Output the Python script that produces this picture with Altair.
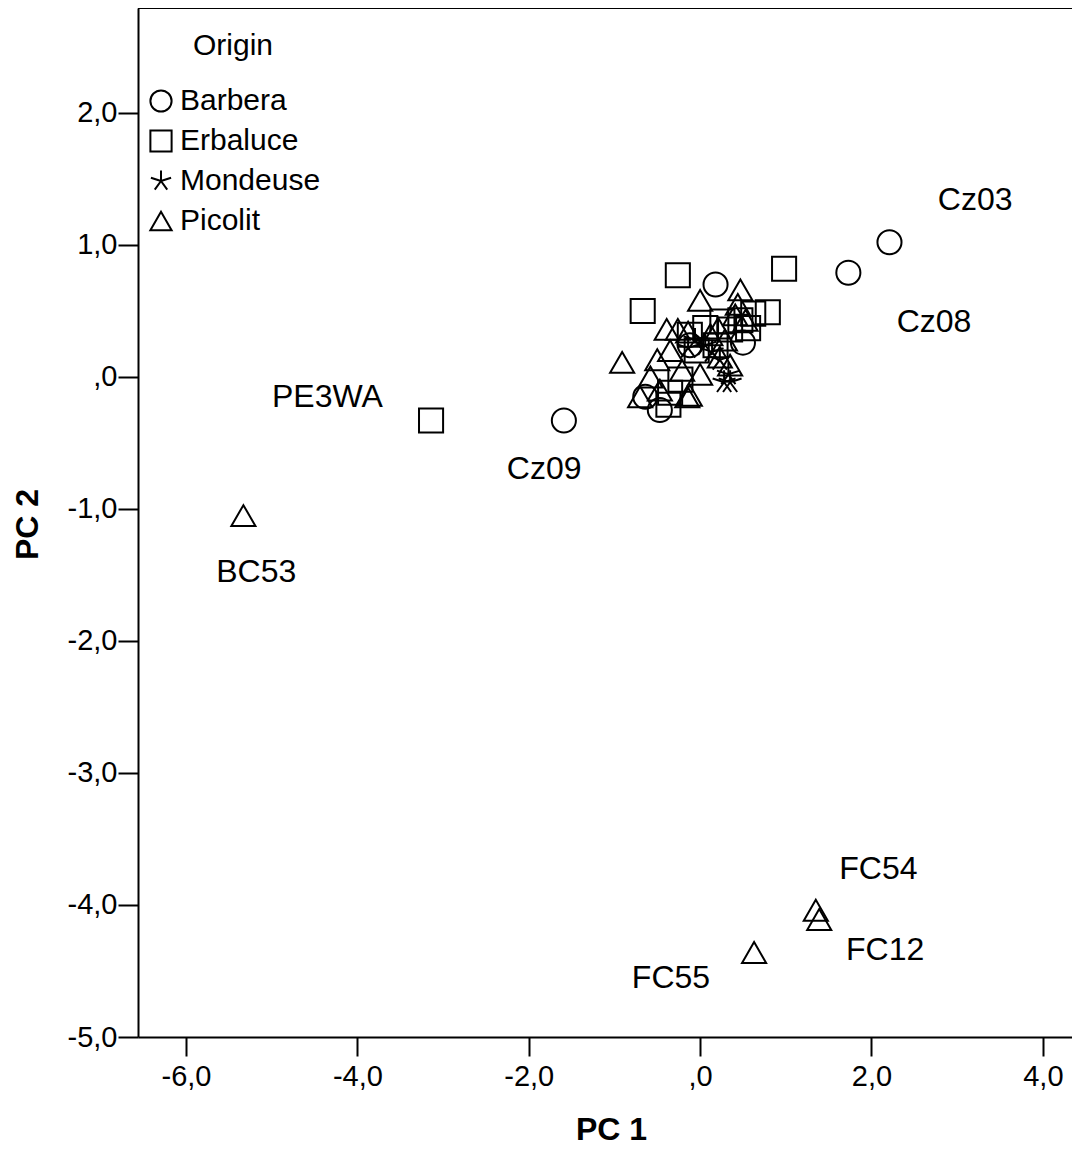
import altair as alt
import pandas as pd

# ---- data ----
origins = ["Barbera", "Erbaluce", "Mondeuse", "Picolit"]

barbera_x = [2.21, 1.73, 0.18, -1.59, 0.50, -0.47, -0.64, -0.12]
barbera_y = [1.02, 0.79, 0.70, -0.33, 0.26, -0.25, -0.15, 0.24]

erbaluce_x = [-3.14, 0.98, -0.26, -0.67, 0.79, 0.62, 0.47, 0.26, 0.06, -0.12, 0.56,
              -0.35, -0.37, -0.23, -0.04, 0.18, 0.35]
erbaluce_y = [-0.33, 0.82, 0.77, 0.50, 0.49, 0.48, 0.43, 0.42, 0.37, 0.32, 0.37,
              -0.12, -0.21, -0.02, 0.20, 0.24, 0.36]

mondeuse_x = [0.28, 0.35, 0.06, 0.14, -0.06, 0.23, -0.14, 0.33]
mondeuse_y = [-0.04, -0.04, 0.24, 0.19, 0.28, 0.13, 0.22, 0.02]

picolit_x = [-5.33, 1.35, 1.39, 0.63, 0.47, 0.00, 0.44, -0.91, -0.39, -0.26, -0.14,
             0.21, -0.50, -0.58, -0.70, -0.35, -0.15, 0.23, 0.35, 0.41, -0.47,
             -0.21, 0.00, -0.12, 0.53, 0.29, 0.12]
picolit_y = [-1.05, -4.04, -4.11, -4.36, 0.66, 0.58, 0.55, 0.11, 0.36, 0.36, 0.34,
             0.37, 0.13, 0.00, -0.15, 0.20, -0.15, 0.15, 0.09, 0.47, -0.10,
             0.05, 0.02, -0.14, 0.43, 0.28, 0.32]

label_text = ["Cz03", "Cz08", "PE3WA", "Cz09", "BC53", "FC54", "FC12", "FC55"]
label_x = [3.21, 2.73, -4.35, -1.82, -5.18, 2.08, 2.16, -0.34]
label_y = [1.34, 0.42, -0.15, -0.70, -1.48, -3.73, -4.34, -4.55]

x_ticks = [-6, -4, -2, 0, 2, 4]
y_ticks = [-5, -4, -3, -2, -1, 0, 1, 2]

# ---- build tables ----
rows = []
for name, xs, ys in [("Barbera", barbera_x, barbera_y),
                     ("Erbaluce", erbaluce_x, erbaluce_y),
                     ("Mondeuse", mondeuse_x, mondeuse_y),
                     ("Picolit", picolit_x, picolit_y)]:
    for a, b in zip(xs, ys):
        rows.append({"PC1": a, "PC2": b, "Origin": name})
points = pd.DataFrame(rows)
labels = pd.DataFrame({"PC1": label_x, "PC2": label_y, "label": label_text})

W, H = 934, 1029
FONT = "Liberation Sans, Arial, sans-serif"
asterisk = ("M0,0L0,-1M0,0L0.951,-0.309M0,0L0.588,0.809"
            "M0,0L-0.588,0.809M0,0L-0.951,-0.309")

lab_expr = ("datum.value == 0 ? ',0' : replace((datum.value < 0 ? '-' : '') + "
            "format(abs(datum.value), '.1f'), '.', ',')")

xscale = alt.Scale(domain=[-6.56, 4.34], nice=False, zero=False)
yscale = alt.Scale(domain=[-5.0, 2.795], nice=False, zero=False)

xaxis = alt.Axis(values=x_ticks, labelExpr=lab_expr, grid=False, title="PC 1",
                 titleX=473, titleY=92, titleBaseline="middle", titleAlign="center",
                 tickSize=19, labelPadding=6)
yaxis = alt.Axis(values=y_ticks, labelExpr=lab_expr, grid=False, title="PC 2",
                 titleX=-111, titleY=516, titleAngle=270, titleBaseline="middle",
                 titleAlign="center", tickSize=20, labelPadding=1)

pts = alt.Chart(points).mark_point(filled=False, strokeWidth=2, color="black",
                                   opacity=1, size=580).encode(
    x=alt.X("PC1:Q", scale=xscale, axis=xaxis),
    y=alt.Y("PC2:Q", scale=yscale, axis=yaxis),
    shape=alt.Shape("Origin:N",
                    scale=alt.Scale(domain=origins,
                                    range=["circle", "square", asterisk, "triangle-up"]),
                    legend=alt.Legend(title="Origin", orient="none", legendX=8,
                                      legendY=23, titleAnchor="middle",
                                      titleFontWeight="normal", titleFontSize=30,
                                      titleFont=FONT, labelFont=FONT,
                                      labelFontSize=30, titlePadding=25,
                                      rowPadding=10, symbolSize=450,
                                      symbolStrokeWidth=2, symbolStrokeColor="black",
                                      labelOffset=4, padding=0,
                                      labelColor="black", titleColor="black")),
)

txt = alt.Chart(labels).mark_text(font=FONT, fontSize=32, color="black",
                                  align="center", baseline="middle").encode(
    x=alt.X("PC1:Q", scale=xscale),
    y=alt.Y("PC2:Q", scale=yscale),
    text="label:N",
)

top = alt.Chart(labels).mark_rule(color="black", strokeWidth=1.5).encode(
    x=alt.value(0), x2=alt.value(W), y=alt.value(0)
)

chart = alt.layer(top, pts, txt).properties(
    width=W, height=H,
    autosize=alt.AutoSizeParams(type="none"),
    padding={"left": 130, "top": 0, "right": 0, "bottom": 110},
).configure_view(stroke=None).configure_axis(
    domainColor="black", domainWidth=2, tickColor="black", tickWidth=2,
    labelFont=FONT, labelFontSize=29, labelColor="black",
    titleFont=FONT, titleFontSize=32, titleFontWeight="bold", titleColor="black",
)

chart.save("out.html", embed_options={"renderer": "svg", "actions": False})
